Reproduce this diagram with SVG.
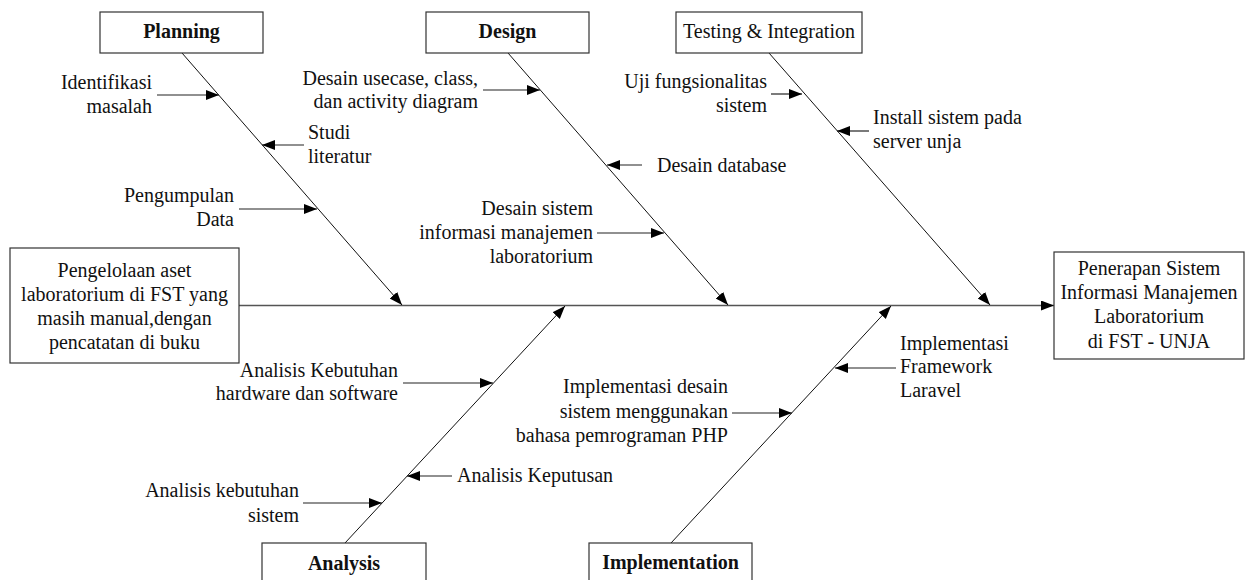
<svg xmlns="http://www.w3.org/2000/svg" width="1246" height="580" viewBox="0 0 1246 580">
<style>
text{font-family:"Liberation Serif","Times New Roman",serif;font-size:20px;fill:#111}
.b{font-weight:bold}
.e{text-anchor:end}
.m{text-anchor:middle}
.box{fill:#fff;stroke:#333;stroke-width:1.2}
.bone{stroke:#111;stroke-width:1;fill:none}
.spine{stroke:#555;stroke-width:1.6;fill:none}
.sub{stroke:#222;stroke-width:1.2;fill:none}
</style>
<defs>
<marker id="ah" markerUnits="userSpaceOnUse" markerWidth="14" markerHeight="12" refX="13" refY="5" orient="auto">
<path d="M0,0 L13,5 L0,10 z" fill="#000"/>
</marker>
</defs>
<rect width="1246" height="580" fill="#fff"/>

<g id="connectors">
<line class="spine" x1="239" y1="305.5" x2="1054" y2="305.5" marker-end="url(#ah)"/>
<line class="bone" x1="182" y1="53" x2="402" y2="305" marker-end="url(#ah)"/>
<line class="bone" x1="508" y1="53" x2="728" y2="305" marker-end="url(#ah)"/>
<line class="bone" x1="769" y1="53" x2="990" y2="305" marker-end="url(#ah)"/>
<line class="bone" x1="345" y1="543" x2="565" y2="306" marker-end="url(#ah)"/>
<line class="bone" x1="671" y1="543" x2="891" y2="306" marker-end="url(#ah)"/>

<line class="sub" x1="157" y1="95" x2="219" y2="95" marker-end="url(#ah)"/>
<line class="sub" x1="304" y1="145" x2="262" y2="145" marker-end="url(#ah)"/>
<line class="sub" x1="239" y1="209" x2="317" y2="209" marker-end="url(#ah)"/>

<line class="sub" x1="483" y1="90" x2="540" y2="90" marker-end="url(#ah)"/>
<line class="sub" x1="642" y1="165" x2="607" y2="165" marker-end="url(#ah)"/>
<line class="sub" x1="597" y1="233" x2="664" y2="233" marker-end="url(#ah)"/>

<line class="sub" x1="771" y1="94" x2="802" y2="94" marker-end="url(#ah)"/>
<line class="sub" x1="869" y1="131" x2="837" y2="131" marker-end="url(#ah)"/>

<line class="sub" x1="403" y1="383" x2="493" y2="383" marker-end="url(#ah)"/>
<line class="sub" x1="452" y1="476" x2="407" y2="476" marker-end="url(#ah)"/>
<line class="sub" x1="303" y1="503" x2="382" y2="503" marker-end="url(#ah)"/>

<line class="sub" x1="732" y1="413" x2="792" y2="413" marker-end="url(#ah)"/>
<line class="sub" x1="896" y1="368" x2="835" y2="368" marker-end="url(#ah)"/>
</g>

<g id="problem">
<rect class="box" x="10" y="248" width="229" height="115"/>
<text class="m" x="124.5" y="277">Pengelolaan aset</text>
<text class="m" x="124.5" y="301">laboratorium di FST yang</text>
<text class="m" x="124.5" y="325">masih manual,dengan</text>
<text class="m" x="124.5" y="349">pencatatan di buku</text>
</g>

<g id="effect">
<rect class="box" x="1054" y="252" width="190" height="107"/>
<text class="m" x="1149" y="275">Penerapan Sistem</text>
<text class="m" x="1149" y="299">Informasi Manajemen</text>
<text class="m" x="1149" y="323">Laboratorium</text>
<text class="m" x="1149" y="348">di FST - UNJA</text>
</g>

<g id="planning">
<rect class="box" x="100" y="12" width="163" height="41"/>
<text class="m b" x="181.5" y="38">Planning</text>
<text class="e" x="152" y="89">Identifikasi</text>
<text class="e" x="152" y="113">masalah</text>
<text x="308" y="139">Studi</text>
<text x="308" y="163">literatur</text>
<text class="e" x="234" y="202">Pengumpulan</text>
<text class="e" x="234" y="226">Data</text>
</g>

<g id="design">
<rect class="box" x="426" y="12" width="163" height="41"/>
<text class="m b" x="507.5" y="38">Design</text>
<text class="e" x="478" y="85">Desain usecase, class,</text>
<text class="e" x="478" y="108">dan activity diagram</text>
<text x="657" y="172">Desain database</text>
<text class="e" x="593" y="215">Desain sistem</text>
<text class="e" x="593" y="239">informasi manajemen</text>
<text class="e" x="593" y="263">laboratorium</text>
</g>

<g id="testing">
<rect class="box" x="676" y="12" width="186" height="41"/>
<text class="m" x="769" y="38">Testing &amp; Integration</text>
<text class="e" x="767" y="88">Uji fungsionalitas</text>
<text class="e" x="767" y="112">sistem</text>
<text x="873" y="124">Install sistem pada</text>
<text x="873" y="148">server unja</text>
</g>

<g id="analysis">
<rect class="box" x="262" y="543" width="164" height="45"/>
<text class="m b" x="344" y="570">Analysis</text>
<text class="e" x="398" y="377">Analisis Kebutuhan</text>
<text class="e" x="398" y="400">hardware dan software</text>
<text x="457" y="482">Analisis Keputusan</text>
<text class="e" x="299" y="497">Analisis kebutuhan</text>
<text class="e" x="299" y="522">sistem</text>
</g>

<g id="implementation">
<rect class="box" x="589" y="543" width="163" height="45"/>
<text class="m b" x="670.5" y="569">Implementation</text>
<text class="e" x="728" y="393">Implementasi desain</text>
<text class="e" x="728" y="418">sistem menggunakan</text>
<text class="e" x="728" y="442">bahasa pemrograman PHP</text>
<text x="900" y="350">Implementasi</text>
<text x="900" y="373">Framework</text>
<text x="900" y="397">Laravel</text>
</g>
</svg>
